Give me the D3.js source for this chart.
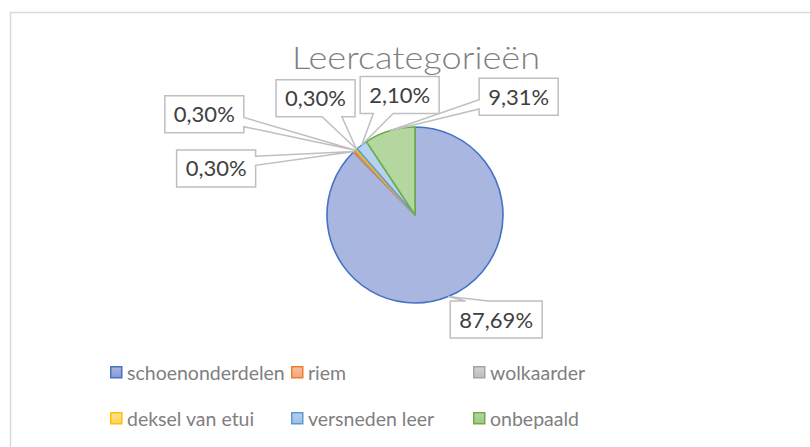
<!DOCTYPE html>
<html>
<head>
<meta charset="utf-8">
<script src="https://cdn.jsdelivr.net/npm/d3@7"></script>
<style>
  html, body { margin: 0; padding: 0; background: #ffffff; }
  svg { display: block; }
</style>
</head>
<body>
<svg id="chart" width="810" height="447"></svg>
<script>
// Leather categories and their share of the finds (percent)
const categories = ["schoenonderdelen", "riem", "wolkaarder", "deksel van etui", "versneden leer", "onbepaald"];
const shares = [87.69, 0.30, 0.30, 0.30, 2.10, 9.31];
const shareLabels = ["87,69%", "0,30%", "0,30%", "0,30%", "2,10%", "9,31%"];
const chartTitle = "Leercategorieën";

// Theme colours: outline and a light-to-darker tint for the fill
const strokeColors = ["#4472c4", "#ed7d31", "#a5a5a5", "#ffc000", "#5b9bd5", "#70ad47"];
const fillTop      = ["#a9b6df", "#f6c0a2", "#d4d4d4", "#ffe290", "#b7d1ee", "#b4d69f"];
const fillBottom   = ["#8498d8", "#f2a579", "#bcbcbc", "#ffd45e", "#9bbde6", "#9cc981"];

// Callout box centre, offset from the point on the slice rim it points at
const calloutOffsets = [[48, 23], [-138, 17], [-151, -36], [-41, -51], [38, -50], [129, -34]];

const svg = d3.select("#chart");
const W = 810, H = 447;
const cx = 415, cy = 215, R = 88;
const FONT = "Lato, 'Liberation Sans', Arial, sans-serif";

// chart area frame (right and bottom edges lie outside the view)
svg.append("rect")
  .attr("x", 10.5).attr("y", 12.5)
  .attr("width", W + 20).attr("height", H + 20)
  .attr("fill", "#ffffff")
  .attr("stroke", "#d9d9d9").attr("stroke-width", 1.5);

const defs = svg.append("defs");
categories.forEach((c, i) => {
  const g = defs.append("linearGradient")
    .attr("id", "pie-grad-" + i)
    .attr("gradientUnits", "userSpaceOnUse")
    .attr("x1", 0).attr("y1", cy - R).attr("x2", 0).attr("y2", cy + R);
  g.append("stop").attr("offset", "0%").attr("stop-color", fillTop[i]);
  g.append("stop").attr("offset", "100%").attr("stop-color", fillBottom[i]);
  const k = defs.append("linearGradient")
    .attr("id", "key-grad-" + i)
    .attr("x1", 0).attr("y1", 0).attr("x2", 0).attr("y2", 1);
  k.append("stop").attr("offset", "0%").attr("stop-color", fillTop[i]);
  k.append("stop").attr("offset", "100%").attr("stop-color", fillBottom[i]);
});

// title
svg.append("text")
  .attr("x", 416).attr("y", 69)
  .attr("text-anchor", "middle")
  .attr("font-family", FONT)
  .attr("font-weight", 300)
  .attr("font-size", 31)
  .attr("textLength", 248)
  .attr("lengthAdjust", "spacingAndGlyphs")
  .attr("fill", "#7f7f7f")
  .text(chartTitle);

// pie, clockwise from 12 o'clock
const pie = d3.pie().sort(null).value(d => d).startAngle(0).endAngle(2 * Math.PI);
const arcs = pie(shares);
const arc = d3.arc().innerRadius(0).outerRadius(R);

const pieG = svg.append("g").attr("transform", `translate(${cx},${cy})`);
pieG.selectAll("path.slice")
  .data(arcs)
  .join("path")
  .attr("class", "slice")
  .attr("d", arc)
  .attr("fill", (d, i) => `url(#pie-grad-${i})`)
  .attr("stroke", (d, i) => strokeColors[i])
  .attr("stroke-width", 1.6)
  .attr("stroke-linejoin", "round");

// rectangular callout with a wedge pointer (wedgeRectCallout geometry)
function calloutPath(l, t, w, h, px, py) {
  const hc = l + w / 2, vc = t + h / 2;
  const dx = px - hc, dy = py - vc;
  const dq = dx * h / w;
  const vertical = Math.abs(dy) - Math.abs(dq) > 0;
  const x1 = l + w * (dx > 0 ? 7 : 2) / 12, x2 = l + w * (dx > 0 ? 10 : 5) / 12;
  const y1 = t + h * (dy > 0 ? 7 : 2) / 12, y2 = t + h * (dy > 0 ? 10 : 5) / 12;
  const r = l + w, b = t + h;
  const p = d3.path();
  p.moveTo(l, t);
  if (vertical && dy < 0) { p.lineTo(x1, t); p.lineTo(px, py); p.lineTo(x2, t); }
  p.lineTo(r, t);
  if (!vertical && dx > 0) { p.lineTo(r, y1); p.lineTo(px, py); p.lineTo(r, y2); }
  p.lineTo(r, b);
  if (vertical && dy > 0) { p.lineTo(x2, b); p.lineTo(px, py); p.lineTo(x1, b); }
  p.lineTo(l, b);
  if (!vertical && dx < 0) { p.lineTo(l, y2); p.lineTo(px, py); p.lineTo(l, y1); }
  p.closePath();
  return p.toString();
}

const labelG = svg.append("g");
arcs.forEach((d, i) => {
  const a = (d.startAngle + d.endAngle) / 2;
  const px = cx + R * Math.sin(a), py = cy - R * Math.cos(a);
  const g = labelG.append("g");
  const txt = g.append("text")
    .attr("font-family", FONT)
    .attr("font-size", 22)
    .attr("fill", "#404040")
    .attr("text-anchor", "middle")
    .text(shareLabels[i]);
  const tw = txt.node().getComputedTextLength();
  const bw = Math.round(tw + 18), bh = 37;
  const bx = px + calloutOffsets[i][0], by = py + calloutOffsets[i][1];
  const l = bx - bw / 2, t = by - bh / 2;
  g.insert("path", "text")
    .attr("d", calloutPath(l, t, bw, bh, px, py))
    .attr("fill", "#ffffff")
    .attr("stroke", "#bfbfbf")
    .attr("stroke-width", 1.5)
    .attr("stroke-linejoin", "miter");
  txt.attr("x", bx).attr("y", by + 8);
});

// legend, three columns by two rows
const colX = [110, 291, 473];
const rowY = [366, 412];
const legend = svg.append("g");
categories.forEach((c, i) => {
  const x = colX[i % 3], y = rowY[Math.floor(i / 3)];
  legend.append("rect")
    .attr("x", x + 0.75).attr("y", y + 0.75)
    .attr("width", 11).attr("height", 11)
    .attr("fill", `url(#key-grad-${i})`)
    .attr("stroke", strokeColors[i])
    .attr("stroke-width", 1.5);
  legend.append("text")
    .attr("x", x + 17).attr("y", y + 13.5)
    .attr("font-family", FONT)
    .attr("font-size", 19.5)
    .attr("fill", "#7f7f7f")
    .text(c);
});
</script>
</body>
</html>
